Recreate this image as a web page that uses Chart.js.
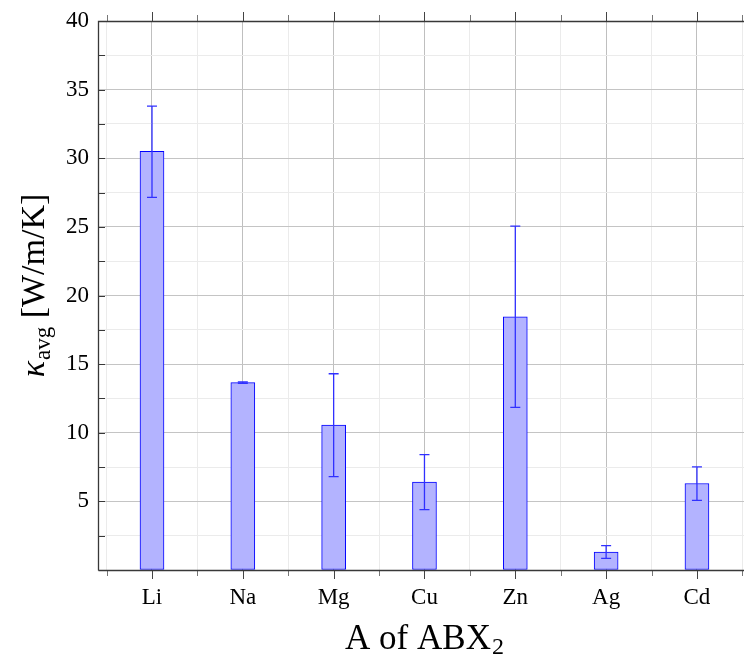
<!DOCTYPE html>
<html><head><meta charset="utf-8">
<script src="https://cdn.jsdelivr.net/npm/chart.js@4.4.1/dist/chart.umd.min.js"></script>
<style>html,body{margin:0;padding:0;background:#fff}canvas{display:block}</style>
</head><body>
<canvas id="c" width="744" height="657"></canvas>
<script>
const categories = ['Li', 'Na', 'Mg', 'Cu', 'Zn', 'Ag', 'Cd'];
const kappaAvg  = [30.5, 13.65, 10.55, 6.4, 18.45, 1.3, 6.3];
const errorLow  = [27.15, 13.6, 6.8, 4.4, 11.85, 0.85, 5.08];
const errorHigh = [33.8, 13.7, 14.3, 8.4, 25.05, 1.78, 7.52];
const yTickLabels = [5, 10, 15, 20, 25, 30, 35, 40];
const xTitle = 'A of ABX';
const xTitleSub = '2';
const yTitleSymbol = 'κ';
const yTitleSub = 'avg';
const yTitleUnit = ' [W/m/K]';

const SERIF = '"Liberation Serif", "Times New Roman", serif';
const AXIS_DARK = '#383838';

const framePlugin = {
  id: 'frameAndTicks',
  afterDatasetsDraw(chart) {
    const {ctx, chartArea: a, scales: {x, y}} = chart;
    ctx.save();
    // error bars
    ctx.strokeStyle = '#3030ff';
    ctx.lineWidth = 1.3;
    categories.forEach((c, i) => {
      const px = x.getPixelForValue(i);
      const yl = y.getPixelForValue(errorLow[i]);
      const yh = y.getPixelForValue(errorHigh[i]);
      ctx.beginPath();
      ctx.moveTo(px, yl); ctx.lineTo(px, yh);
      ctx.moveTo(px - 5, yl); ctx.lineTo(px + 5, yl);
      ctx.moveTo(px - 5, yh); ctx.lineTo(px + 5, yh);
      ctx.stroke();
    });
    // y ticks (inward)
    ctx.lineWidth = 1;
    for (let v = 2.5; v < 40; v += 2.5) {
      const py = Math.round(y.getPixelForValue(v)) + 0.5;
      ctx.strokeStyle = AXIS_DARK;
      ctx.beginPath(); ctx.moveTo(a.left, py); ctx.lineTo(a.left + 7, py); ctx.stroke();
    }
    // x ticks (outward, top and bottom)
    for (let v = -0.5; v <= 6.5; v += 0.5) {
      const major = Number.isInteger(v);
      const len = major ? 9 : 6;
      const px = Math.round(x.getPixelForValue(v)) + 0.5;
      ctx.strokeStyle = major ? '#444' : '#777';
      ctx.beginPath();
      ctx.moveTo(px, a.bottom); ctx.lineTo(px, a.bottom + len);
      ctx.moveTo(px, a.top); ctx.lineTo(px, a.top - len);
      ctx.stroke();
    }
    // frame
    ctx.strokeStyle = AXIS_DARK;
    ctx.lineWidth = 1.3;
    ctx.beginPath();
    ctx.moveTo(a.left + 0.5, a.bottom + 0.5); ctx.lineTo(a.left + 0.5, a.top + 0.5); ctx.lineTo(a.right, a.top + 0.5);
    ctx.moveTo(a.left + 0.5, a.bottom + 0.5); ctx.lineTo(a.right, a.bottom + 0.5);
    ctx.stroke();
    ctx.restore();
  },
  afterDraw(chart) {
    const {ctx, chartArea: a} = chart;
    ctx.save();
    ctx.fillStyle = '#000';
    // x title
    const big = 35, sub = 24;
    ctx.font = big + 'px ' + SERIF;
    const w1 = ctx.measureText(xTitle).width;
    ctx.font = sub + 'px ' + SERIF;
    const w2 = ctx.measureText(xTitleSub).width;
    const cx = 424;
    let sx = cx - (w1 + w2) / 2;
    ctx.textBaseline = 'alphabetic';
    ctx.textAlign = 'left';
    ctx.font = big + 'px ' + SERIF;
    ctx.fillText(xTitle, sx, 649);
    ctx.font = sub + 'px ' + SERIF;
    ctx.fillText(xTitleSub, sx + w1 + 1, 654);
    // y title (rotated)
    const yb = 34, ys = 23;
    ctx.translate(44, (a.top + a.bottom) / 2 - 10);
    ctx.rotate(-Math.PI / 2);
    ctx.font = 'italic ' + yb + 'px ' + SERIF;
    const k = ctx.measureText(yTitleSymbol).width;
    ctx.font = ys + 'px ' + SERIF;
    const s = ctx.measureText(yTitleSub).width;
    ctx.font = yb + 'px ' + SERIF;
    const u = ctx.measureText(yTitleUnit).width;
    let px = -(k + s + u + 1) / 2;
    ctx.font = 'italic ' + yb + 'px ' + SERIF;
    ctx.fillText(yTitleSymbol, px, 0);
    px += k + 1;
    ctx.font = ys + 'px ' + SERIF;
    ctx.fillText(yTitleSub, px, 6);
    px += s;
    ctx.font = yb + 'px ' + SERIF;
    ctx.fillText(yTitleUnit, px, 0);
    ctx.restore();
  }
};

function isMajorX(c) { return c && c.tick && Number.isInteger(c.tick.value); }
function isMajorY(c) { return c && c.tick && (Math.abs(c.tick.value % 5) < 1e-9); }

new Chart(document.getElementById('c'), {
  type: 'bar',
  data: {
    datasets: [{
      data: kappaAvg.map((v, i) => ({x: i, y: v})),
      backgroundColor: '#b3b3ff',
      borderColor: '#0000ff',
      borderWidth: 1,
      borderSkipped: false,
      barThickness: 24
    }]
  },
  options: {
    responsive: false,
    animation: false,
    devicePixelRatio: 1,
    layout: {padding: {top: 21, right: 0, left: 0, bottom: 0}},
    plugins: {legend: {display: false}, tooltip: {enabled: false}, title: {display: false}},
    scales: {
      x: {
        type: 'linear',
        offset: false,
        min: -0.5945,
        max: 6.518,
        afterFit(sc) { sc.height = 87; sc.paddingLeft = 0; sc.paddingRight = 0; },
        border: {display: false},
        grid: {
          offset: false,
          drawTicks: false,
          color: (c) => isMajorX(c) ? '#bfbfbf' : '#ebebeb',
          lineWidth: 1
        },
        ticks: {
          stepSize: 0.5,
          includeBounds: false,
          autoSkip: false,
          maxRotation: 0,
          padding: 14,
          color: '#000',
          font: {family: SERIF, size: 23},
          callback: (v) => (Number.isInteger(v) && v >= 0 && v < categories.length) ? categories[v] : ''
        }
      },
      y: {
        type: 'linear',
        min: 0,
        max: 40,
        afterFit(sc) { sc.width = 98; sc.paddingTop = 0; sc.paddingBottom = 0; },
        border: {display: false},
        grid: {
          drawTicks: false,
          color: (c) => isMajorY(c) ? '#c4c4c4' : '#ebebeb',
          lineWidth: 1
        },
        ticks: {
          stepSize: 2.5,
          autoSkip: false,
          padding: 9,
          color: '#000',
          font: {family: SERIF, size: 23},
          callback: (v) => yTickLabels.includes(v) ? String(v) : ''
        }
      }
    }
  },
  plugins: [framePlugin]
});
</script>
</body></html>
